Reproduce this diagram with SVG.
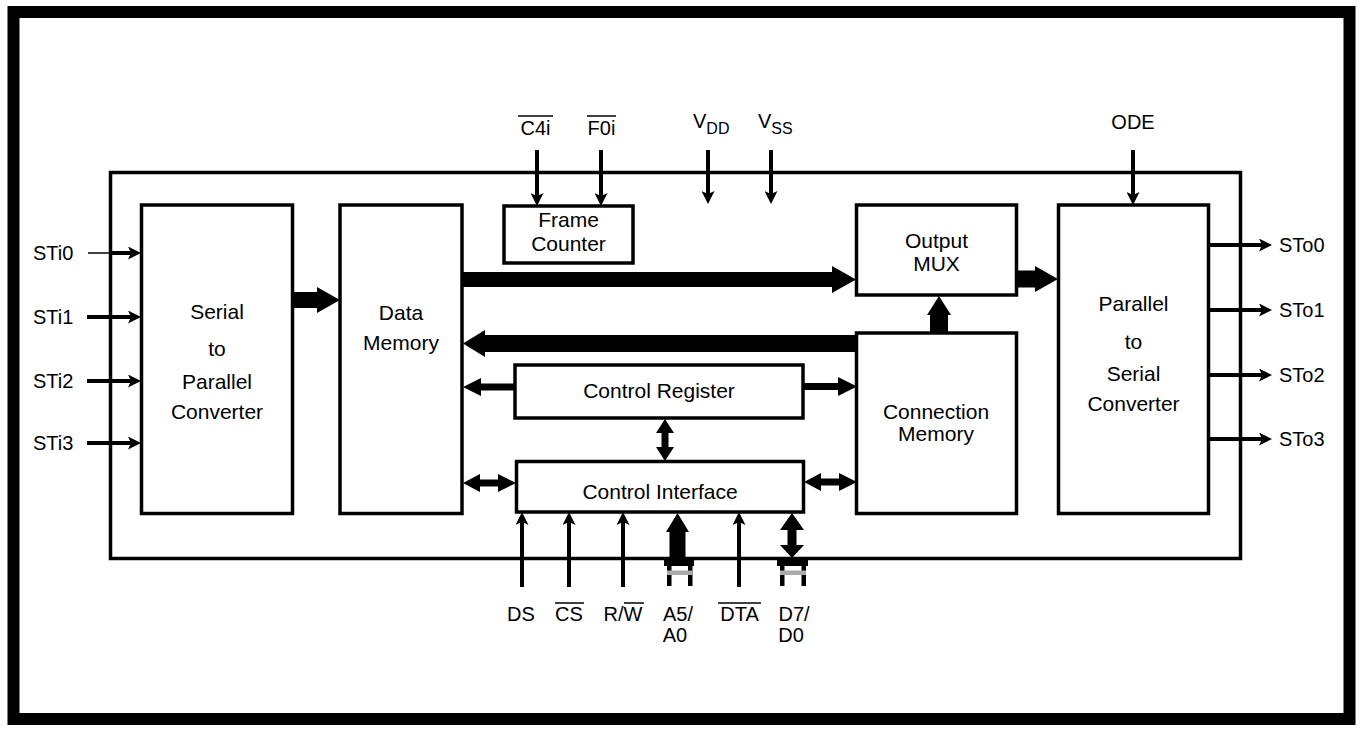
<svg xmlns="http://www.w3.org/2000/svg" width="1360" height="731" viewBox="0 0 1360 731">
<style>
.blk{fill:#fff;stroke:#000;stroke-width:3.5}
.chip{fill:none;stroke:#000;stroke-width:3.5}
.t{font-family:"Liberation Sans",Arial,Helvetica,sans-serif;font-size:21px;fill:#000;text-anchor:middle}
.p{font-family:"Liberation Sans",Arial,Helvetica,sans-serif;font-size:20px;fill:#000}
.pc{text-anchor:middle}
.sub{font-size:16px}
.w{stroke:#000;stroke-width:4;fill:none}
.thin{stroke:#000;stroke-width:1.5;fill:none}
.ol{stroke:#000;stroke-width:1.5}
.bus{fill:#000;stroke:none}
.grey{fill:#aaa}
</style>
<defs>
<marker id="ah" viewBox="0 0 13 13" refX="5" refY="6.5" markerWidth="13" markerHeight="13" markerUnits="userSpaceOnUse" orient="auto">
<path d="M0,0 L13,6.5 L0,13 L3,6.5 Z" fill="#000"/>
</marker>
</defs>
<rect x="13.5" y="12" width="1336" height="707" fill="#fff" stroke="#000" stroke-width="12"/>
<rect id="chip" class="chip" x="110.5" y="172.5" width="1130" height="386"/>

<g id="serial-to-parallel">
<rect class="blk" x="141.5" y="205" width="151" height="308.5"/>
<text class="t" x="217" y="319">Serial</text>
<text class="t" x="217" y="356">to</text>
<text class="t" x="217" y="389">Parallel</text>
<text class="t" x="217" y="419">Converter</text>
</g>
<g id="data-memory">
<rect class="blk" x="340" y="205" width="122" height="308.5"/>
<text class="t" x="401" y="320">Data</text>
<text class="t" x="401" y="350">Memory</text>
</g>
<g id="frame-counter">
<rect class="blk" x="504" y="206" width="129" height="57"/>
<text class="t" x="568.5" y="227">Frame</text>
<text class="t" x="568.5" y="251">Counter</text>
</g>
<g id="output-mux">
<rect class="blk" x="856.5" y="205" width="160" height="90"/>
<text class="t" x="936.5" y="248">Output</text>
<text class="t" x="936.5" y="271">MUX</text>
</g>
<g id="connection-memory">
<rect class="blk" x="856.5" y="333" width="160" height="180.5"/>
<text class="t" x="936" y="419">Connection</text>
<text class="t" x="936" y="441">Memory</text>
</g>
<g id="parallel-to-serial">
<rect class="blk" x="1058.5" y="205" width="150" height="308.5"/>
<text class="t" x="1133.5" y="311">Parallel</text>
<text class="t" x="1133.5" y="349">to</text>
<text class="t" x="1133.5" y="381">Serial</text>
<text class="t" x="1133.5" y="411">Converter</text>
</g>
<g id="control-register">
<rect class="blk" x="515" y="365" width="288" height="53"/>
<text class="t" x="659" y="398">Control Register</text>
</g>
<g id="control-interface">
<rect class="blk" x="516.5" y="461.5" width="287" height="50.5"/>
<text class="t" x="660" y="499">Control Interface</text>
</g>

<g id="connectors">
<!-- serial inputs -->
<line class="thin" x1="88" y1="253" x2="111" y2="253"/>
<line class="w" x1="110" y1="253" x2="133" y2="253" marker-end="url(#ah)"/>
<line class="w" x1="87" y1="317" x2="133" y2="317" marker-end="url(#ah)"/>
<line class="w" x1="87" y1="381" x2="133" y2="381" marker-end="url(#ah)"/>
<line class="w" x1="87" y1="443" x2="133" y2="443" marker-end="url(#ah)"/>
<!-- serial outputs -->
<line class="w" x1="1208" y1="245" x2="1264" y2="245" marker-end="url(#ah)"/>
<line class="w" x1="1208" y1="310" x2="1264" y2="310" marker-end="url(#ah)"/>
<line class="w" x1="1208" y1="375" x2="1264" y2="375" marker-end="url(#ah)"/>
<line class="w" x1="1208" y1="439" x2="1264" y2="439" marker-end="url(#ah)"/>
<!-- top pins -->
<line class="w" x1="537" y1="150" x2="537" y2="198" marker-end="url(#ah)"/>
<line class="w" x1="601" y1="150" x2="601" y2="198" marker-end="url(#ah)"/>
<line class="w" x1="708" y1="150" x2="708" y2="196" marker-end="url(#ah)"/>
<line class="w" x1="771" y1="150" x2="771" y2="196" marker-end="url(#ah)"/>
<line class="w" x1="1133" y1="150" x2="1133" y2="197" marker-end="url(#ah)"/>
<!-- bottom pins -->
<line class="w" x1="522" y1="587" x2="522" y2="520" marker-end="url(#ah)"/>
<line class="w" x1="569" y1="587" x2="569" y2="520" marker-end="url(#ah)"/>
<line class="w" x1="623" y1="587" x2="623" y2="520" marker-end="url(#ah)"/>
<line class="w" x1="739" y1="587" x2="739" y2="520" marker-end="url(#ah)"/>
<!-- buses -->
<polygon class="bus" points="292,292 317,292 317,287 340,300 317,313 317,308 292,308"/>
<polygon class="bus" points="462,272 832,272 832,266 856,279.5 832,293 832,287 462,287"/>
<polygon class="bus" points="857,335 485,335 485,330 463,343.5 485,357 485,352 857,352"/>
<polygon class="bus" points="1016,270.5 1035,270.5 1035,266 1058,279 1035,292 1035,287.5 1016,287.5"/>
<polygon class="bus" points="930,333 930,315 927,315 939,296 951,315 948,315 948,333"/>
<polygon class="bus" points="669.5,558 669.5,532 666,532 677.5,513 689,532 685.5,532 685.5,558"/>
<!-- control register arrows -->
<polygon class="bus" points="515,383.5 481,383.5 481,378 463,387 481,396 481,390.5 515,390.5"/>
<polygon class="bus" points="803,383 838,383 838,377 857,386.5 838,396 838,390 803,390"/>
<!-- double arrows -->
<polygon class="bus" points="665,419 674,433 668.5,433 668.5,447 674,447 665,461 656,447 661.5,447 661.5,433 656,433"/>
<polygon class="bus" points="463,483 480,474 480,479.5 498,479.5 498,474 516,483 498,492 498,486.5 480,486.5 480,492"/>
<polygon class="bus" points="804,482 821,473 821,478.5 839,478.5 839,473 857,482 839,491 839,485.5 821,485.5 821,491"/>
<polygon class="bus" points="792,513 804,530 796.5,530 796.5,545 804,545 792,558 780,545 787.5,545 787.5,530 780,530"/>
<!-- bus terminations -->
<rect class="bus" x="664" y="557" width="30" height="9"/>
<rect class="bus" x="667" y="566" width="4.5" height="20"/>
<rect class="bus" x="688" y="566" width="4.5" height="20"/>
<rect class="grey" x="667" y="570.5" width="25.5" height="4.5"/>
<rect class="bus" x="777" y="557" width="31" height="9"/>
<rect class="bus" x="780" y="566" width="4.5" height="20"/>
<rect class="bus" x="801.5" y="566" width="4.5" height="20"/>
<rect class="grey" x="780" y="570.5" width="26" height="4.5"/>
</g>

<g id="labels">
<text class="p" x="33" y="260">STi0</text>
<text class="p" x="33" y="324">STi1</text>
<text class="p" x="33" y="388">STi2</text>
<text class="p" x="33" y="450">STi3</text>
<text class="p" x="1279" y="252">STo0</text>
<text class="p" x="1279" y="317">STo1</text>
<text class="p" x="1279" y="382">STo2</text>
<text class="p" x="1279" y="446">STo3</text>
<text class="p pc" x="535.5" y="135">C4i</text>
<line class="ol" x1="518" y1="116" x2="553" y2="116"/>
<text class="p pc" x="601.5" y="135">F0i</text>
<line class="ol" x1="587" y1="116" x2="616" y2="116"/>
<text class="p" x="693" y="128">V<tspan class="sub" dy="6">DD</tspan></text>
<text class="p" x="758" y="128">V<tspan class="sub" dy="6">SS</tspan></text>
<text class="p pc" x="1133" y="129">ODE</text>
<text class="p pc" x="521" y="621">DS</text>
<text class="p pc" x="569" y="621">CS</text>
<line class="ol" x1="555" y1="603" x2="584" y2="603"/>
<text class="p pc" x="623" y="621">R/W</text>
<line class="ol" x1="624" y1="603" x2="644" y2="603"/>
<text class="p pc" x="678" y="621">A5/</text>
<text class="p pc" x="675" y="642">A0</text>
<text class="p pc" x="739.5" y="621">DTA</text>
<line class="ol" x1="718" y1="603" x2="761" y2="603"/>
<text class="p pc" x="794" y="621">D7/</text>
<text class="p pc" x="791" y="642">D0</text>
</g>
</svg>
